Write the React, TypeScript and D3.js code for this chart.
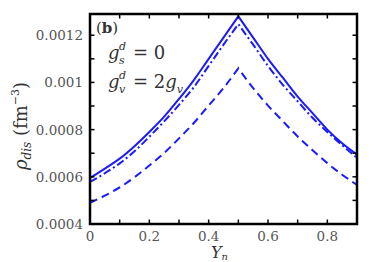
import React from 'react';
import * as d3 from 'd3';

// Y_n sample points and rho_dis (fm^-3) for the three couplings
const yn = [0, 0.05, 0.1, 0.15, 0.2, 0.25, 0.3, 0.35, 0.4, 0.45, 0.5, 0.55, 0.6, 0.65, 0.7, 0.75, 0.8, 0.85, 0.9];
const solid = [0.000595, 0.000635, 0.000677, 0.00073, 0.00079, 0.000855, 0.00093, 0.00101, 0.0011, 0.00119, 0.00128,
  0.00119, 0.0011, 0.00102, 0.00094, 0.00087, 0.0008, 0.000742, 0.000694];
const dashDot = [0.000578, 0.000615, 0.000657, 0.000708, 0.00077, 0.000835, 0.000905, 0.00098, 0.00107, 0.00116, 0.001247,
  0.00116, 0.00107, 0.00099, 0.00092, 0.00085, 0.00079, 0.000734, 0.00068];
const dashed = [0.00049, 0.00052, 0.000555, 0.000598, 0.000648, 0.000701, 0.000763, 0.000828, 0.000902, 0.000976, 0.00106,
  0.000976, 0.000902, 0.000836, 0.000771, 0.000713, 0.000658, 0.000609, 0.000566];

const xTickLabels = [0, 0.2, 0.4, 0.6, 0.8];
const yTickLabels = ['0.0004', '0.0006', '0.0008', '0.001', '0.0012'];

const W = 374;
const H = 262;
const margin = { top: 14, right: 17, bottom: 38, left: 90 };
const blue = '#1a1aff';
const textGrey = '#555';
const font = '"DejaVu Serif", serif';

const App: React.FC = () => {
  const x = d3.scaleLinear().domain([0, 0.9]).range([margin.left, W - margin.right]);
  const y = d3.scaleLinear().domain([0.0004, 0.00129]).range([H - margin.bottom, margin.top]);

  // piecewise smooth: split at the peak so the cusp stays sharp
  const peak = yn.indexOf(0.5);
  const line = (vals: number[]) => {
    const gen = d3.line<number>()
      .x(i => x(yn[i]))
      .y(i => y(vals[i]))
      .curve(d3.curveMonotoneX);
    const left = d3.range(0, peak + 1);
    const right = d3.range(peak, yn.length);
    return (gen(left) as string) + (gen(right) as string).replace(/^M/, 'L');
  };

  const series = [
    { vals: solid, dash: undefined },
    { vals: dashDot, dash: '8 3 2 3' },
    { vals: dashed, dash: '8 5' },
  ];

  const xMinor = d3.range(0, 0.9001, 0.1);
  const yMinor = d3.range(0.0004, 0.00129, 0.0001);
  const tick = 4.5;
  const x0 = margin.left, x1 = W - margin.right, y0 = H - margin.bottom, y1 = margin.top;

  return (
    <svg width={W} height={H} style={{ position: 'absolute', left: 0, top: 0, background: '#fff', fontFamily: font }}>
      <defs>
        <clipPath id="plot">
          <rect x={x0} y={y1} width={x1 - x0} height={y0 - y1} />
        </clipPath>
      </defs>

      {/* data */}
      <g clipPath="url(#plot)">
        {series.map((s, i) => (
          <path key={i} d={line(s.vals)} fill="none" stroke={blue} strokeWidth={2} strokeDasharray={s.dash} />
        ))}
      </g>

      {/* ticks, pointing inward on all four sides */}
      <g stroke="#000" strokeWidth={1.5}>
        {xMinor.map((v, i) => (
          <g key={'xt' + i}>
            <line x1={x(v)} x2={x(v)} y1={y0} y2={y0 - tick} />
            <line x1={x(v)} x2={x(v)} y1={y1} y2={y1 + tick} />
          </g>
        ))}
        {yMinor.map((v, i) => (
          <g key={'yt' + i}>
            <line x1={x0} x2={x0 + tick} y1={y(v)} y2={y(v)} />
            <line x1={x1} x2={x1 - tick} y1={y(v)} y2={y(v)} />
          </g>
        ))}
      </g>

      {/* frame */}
      <rect x={x0} y={y1} width={x1 - x0} height={y0 - y1} fill="none" stroke="#000" strokeWidth={2.5} />

      {/* tick labels */}
      <g fill={textGrey} fontSize={13.5}>
        {xTickLabels.map(v => (
          <text key={v} x={x(v)} y={241} textAnchor="middle">{String(v)}</text>
        ))}
        {yTickLabels.map(v => (
          <text key={v} x={83} y={y(+v) + 5} textAnchor="end">{v}</text>
        ))}
      </g>

      {/* axis titles */}
      <text x={211} y={258} fontSize={16} fontStyle="italic" fill="#333">
        Y<tspan fontSize={10} dy={2}>n</tspan>
      </text>
      <text transform="translate(27,126) rotate(-90)" textAnchor="middle" fontSize={18} fill="#333">
        <tspan fontStyle="italic">ρ</tspan>
        <tspan fontStyle="italic" fontSize={12} dy={4}>dis</tspan>
        <tspan dy={-4}> (fm</tspan>
        <tspan fontSize={11} dy={-8}>−3</tspan>
        <tspan dy={8}>)</tspan>
      </text>

      {/* annotations */}
      <text x={96} y={33} fontSize={15} fill="#333">
        (<tspan fontWeight="bold">b</tspan>)
      </text>
      <text x={108} y={59} fontSize={18} fill="#333">
        <tspan fontStyle="italic">g</tspan>
        <tspan x={119} y={50} fontSize={11} fontStyle="italic">d</tspan>
        <tspan x={119} y={64} fontSize={11} fontStyle="italic">s</tspan>
        <tspan x={133} y={59}>= 0</tspan>
      </text>
      <text x={108} y={88} fontSize={18} fill="#333">
        <tspan fontStyle="italic">g</tspan>
        <tspan x={119} y={79} fontSize={11} fontStyle="italic">d</tspan>
        <tspan x={119} y={93} fontSize={11} fontStyle="italic">v</tspan>
        <tspan x={133} y={88}>= 2</tspan>
        <tspan fontStyle="italic">g</tspan>
        <tspan fontSize={11} fontStyle="italic" dy={5}>v</tspan>
      </text>
    </svg>
  );
};

export default App;
